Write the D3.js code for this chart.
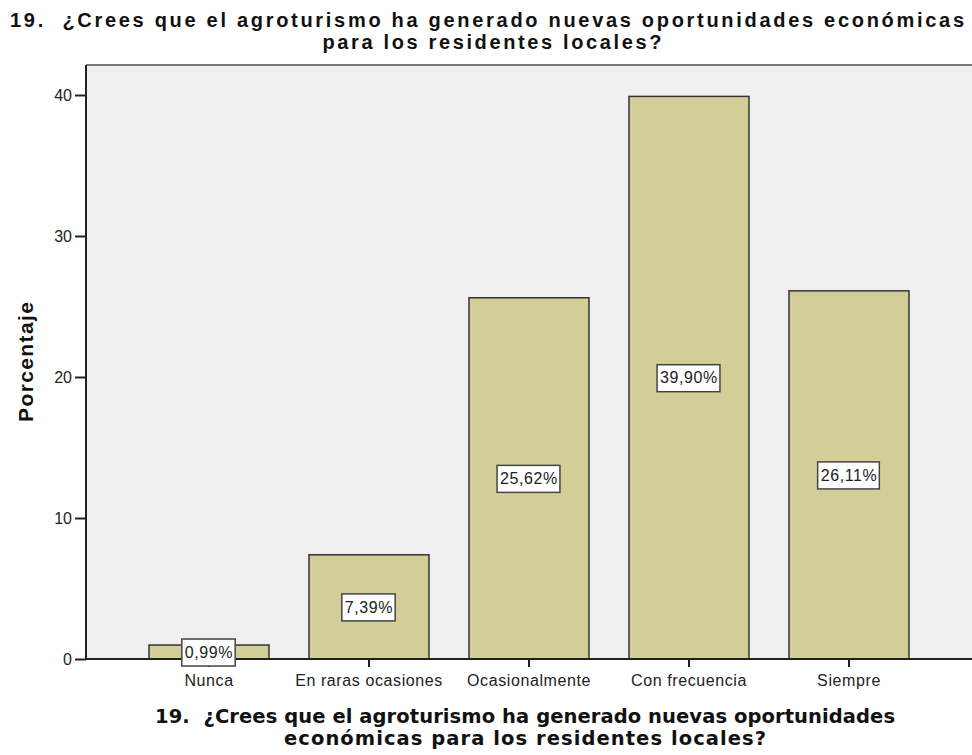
<!DOCTYPE html>
<html>
<head>
  <meta charset="utf-8">
  <title>Agroturismo - oportunidades económicas</title>
  <script src="https://cdn.jsdelivr.net/npm/d3@7/dist/d3.min.js"></script>
  <style>
    body { margin: 0; background: #fff; }
    svg { display: block; }
    text { white-space: pre; }
  </style>
</head>
<body>
  <svg width="972" height="755"></svg>

  <script>
    // datos
    const categories = ["Nunca", "En raras ocasiones", "Ocasionalmente", "Con frecuencia", "Siempre"];
    const values = [0.99, 7.39, 25.62, 39.90, 26.11];
    const labels = ["0,99%", "7,39%", "25,62%", "39,90%", "26,11%"];
    const yTicks = [0, 10, 20, 30, 40];
    const titleLines = ["19.  ¿Crees que el agroturismo ha generado nuevas oportunidades económicas", "para los residentes locales?"];
    const xTitleLines = ["19.  ¿Crees que el agroturismo ha generado nuevas oportunidades", "económicas para los residentes locales?"];

    const data = categories.map((c, i) => ({ cat: c, value: values[i], label: labels[i] }));

    const svg = d3.select("svg");
    const sans = "'Liberation Sans', Arial, sans-serif";

    const plot = { left: 86, top: 65, right: 972, bottom: 659 };

    const x = d3.scaleBand()
      .domain(categories)
      .range([129, 929])
      .paddingInner(0.25)
      .paddingOuter(0.125);

    const y = d3.scaleLinear()
      .domain([0, 40])
      .range([plot.bottom, 95]);

    // fondo del área de trazado
    svg.append("rect")
      .attr("x", plot.left)
      .attr("y", plot.top)
      .attr("width", plot.right - plot.left)
      .attr("height", plot.bottom - plot.top)
      .attr("fill", "#f0f0f0");

    svg.append("line")
      .attr("x1", plot.left).attr("x2", plot.right)
      .attr("y1", plot.top).attr("y2", plot.top)
      .attr("stroke", "#777").attr("stroke-width", 2);

    // barras
    svg.append("g")
      .selectAll("rect")
      .data(data)
      .join("rect")
      .attr("x", d => x(d.cat))
      .attr("y", d => y(d.value))
      .attr("width", x.bandwidth())
      .attr("height", d => y(0) - y(d.value))
      .attr("fill", "#d3ce97")
      .attr("stroke", "#333")
      .attr("stroke-width", 1.5);

    // ejes
    const yAxis = d3.axisLeft(y).tickValues(yTicks).tickSize(11).tickPadding(3);
    const gy = svg.append("g")
      .attr("transform", `translate(${plot.left},0)`)
      .call(yAxis);
    gy.select(".domain").attr("stroke", "#222").attr("stroke-width", 2)
      .attr("d", `M0,${plot.top}V${plot.bottom}`);
    gy.selectAll(".tick line").attr("stroke", "#222").attr("stroke-width", 2);
    gy.selectAll(".tick text")
      .attr("font-family", sans)
      .attr("font-size", 16).attr("fill", "#222");

    const xAxis = d3.axisBottom(x).tickSize(8).tickPadding(8);
    const gx = svg.append("g")
      .attr("transform", `translate(0,${plot.bottom})`)
      .call(xAxis);
    gx.select(".domain").attr("stroke", "#222").attr("stroke-width", 2)
      .attr("d", `M${plot.left},0H${plot.right}`);
    gx.selectAll(".tick line").attr("stroke", "#222").attr("stroke-width", 2);
    gx.selectAll(".tick text")
      .attr("font-family", sans)
      .attr("font-size", 16)
      .attr("letter-spacing", 0.6)
      .attr("fill", "#222");

    // etiquetas de valor
    const lab = svg.append("g")
      .selectAll("g")
      .data(data)
      .join("g")
      .attr("transform", d => `translate(${x(d.cat) + x.bandwidth() / 2},${y(d.value / 2)})`);
    lab.append("text")
      .attr("text-anchor", "middle")
      .attr("dy", "0.36em")
      .attr("font-family", sans)
      .attr("font-size", 16)
      .attr("letter-spacing", 0.6)
      .attr("fill", "#222")
      .text(d => d.label);
    lab.each(function () {
      const g = d3.select(this);
      const bb = g.select("text").node().getBBox();
      g.insert("rect", "text")
        .attr("x", bb.x - 3)
        .attr("y", -13)
        .attr("width", bb.width + 5)
        .attr("height", 27)
        .attr("fill", "#fff")
        .attr("stroke", "#444")
        .attr("stroke-width", 1.5);
    });

    // ajusta el ancho del texto
    function fit(sel, w) {
      sel.attr("textLength", w).attr("lengthAdjust", "spacing");
    }

    // título
    const title = svg.append("g")
      .attr("font-family", sans)
      .attr("font-weight", "bold")
      .attr("font-size", 20)
      .attr("fill", "#111")
      .attr("text-anchor", "middle");
    title.selectAll("text")
      .data(titleLines)
      .join("text")
      .attr("x", (d, i) => [487, 492][i])
      .attr("y", (d, i) => 27 + i * 22)
      .text(d => d)
      .each(function (d, i) { fit(d3.select(this), [954, 339][i]); });

    // título eje y
    svg.append("text")
      .attr("transform", `translate(33,${(plot.top + plot.bottom) / 2}) rotate(-90)`)
      .attr("text-anchor", "middle")
      .attr("font-family", sans)
      .attr("font-weight", "bold")
      .attr("font-size", 21)
      .attr("fill", "#111")
      .text("Porcentaje")
      .call(fit, 120);

    // título eje x
    const xt = svg.append("g")
      .attr("font-family", "'DejaVu Sans', Verdana, sans-serif")
      .attr("font-weight", "bold")
      .attr("font-size", 19.5)
      .attr("fill", "#111")
      .attr("text-anchor", "middle");
    xt.selectAll("text")
      .data(xTitleLines)
      .join("text")
      .attr("x", 525)
      .attr("y", (d, i) => 723 + i * 22)
      .text(d => d)
      .each(function (d, i) { fit(d3.select(this), [740, 482][i]); });
  </script>
</body>
</html>
